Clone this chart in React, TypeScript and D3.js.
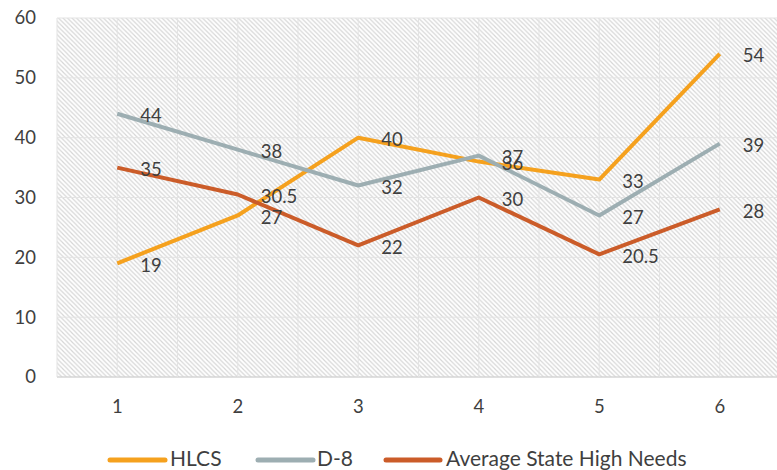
import * as d3 from "d3";

const categories = ["1", "2", "3", "4", "5", "6"];
const hlcs = [19, 27, 40, 36, 33, 54];
const d8 = [44, 38, 32, 37, 27, 39];
const avgHighNeeds = [35, 30.5, 22, 30, 20.5, 28];
const yTicks = [0, 10, 20, 30, 40, 50, 60];

const seriesList = [
  { name: "HLCS", values: hlcs, color: "#F5A11E" },
  { name: "D-8", values: d8, color: "#9DAEB2" },
  { name: "Average State High Needs", values: avgHighNeeds, color: "#CB5C29" },
];

const W = 777;
const H = 470;
const margin = { top: 18, right: -3, bottom: 93, left: 57 };
const font = "Lato, 'Open Sans', sans-serif";
const textColor = "#3f3f3f";

const App = () => {
  const x = d3
    .scaleBand()
    .domain(categories)
    .range([margin.left, W - margin.right]);
  const y = d3
    .scaleLinear()
    .domain([0, 60])
    .range([H - margin.bottom, margin.top]);
  const cx = (c) => x(c) + x.bandwidth() / 2;

  // gridlines at band edges and centres
  const vLines = [];
  categories.forEach((c) => {
    vLines.push(x(c));
    vLines.push(cx(c));
  });
  vLines.push(x(categories[categories.length - 1]) + x.bandwidth());

  const line = d3
    .line()
    .x((d, i) => cx(categories[i]))
    .y((d) => y(d));

  const legend = [
    { x1: 110, x2: 165, tx: 170 },
    { x1: 258, x2: 313, tx: 317 },
    { x1: 386, x2: 440, tx: 446 },
  ];

  return (
    <svg
      width={W}
      height={H}
      style={{ position: "fixed", left: 0, top: 0, display: "block", background: "#fff" }}
    >
      <defs>
        <pattern id="hatch" width="4.5" height="4.5" patternUnits="userSpaceOnUse">
          <path d="M-1,-1 L5.5,5.5 M-1,3.5 L1,5.5 M3.5,-1 L5.5,1" stroke="#d6d6d6" strokeWidth="1.2" />
        </pattern>
      </defs>
      <rect
        x={margin.left}
        y={margin.top}
        width={W - margin.left - margin.right}
        height={y(0) - margin.top}
        fill="url(#hatch)"
      />
      {yTicks.map((t) => (
        <line key={"h" + t} x1={margin.left} x2={W} y1={y(t)} y2={y(t)} stroke={t === 0 ? "#d4d4d4" : "#e3e3e3"} strokeWidth={t === 0 ? 1.5 : 1} />
      ))}
      {vLines.map((v, i) => (
        <line key={"v" + i} x1={v} x2={v} y1={margin.top} y2={y(0)} stroke="#e3e3e3" strokeWidth={1} />
      ))}
      {yTicks.map((t) => (
        <text key={"yt" + t} x={36} y={y(t)} dy="0.35em" textAnchor="end" fontFamily={font} fontSize={18.5} fill={textColor}>
          {t}
        </text>
      ))}
      {categories.map((c) => (
        <text key={"xt" + c} x={cx(c)} y={407} dy="0.35em" textAnchor="middle" fontFamily={font} fontSize={18.5} fill={textColor}>
          {c}
        </text>
      ))}
      {seriesList.map((s) => (
        <path key={s.name} d={line(s.values)} fill="none" stroke={s.color} strokeWidth={4} strokeLinejoin="round" />
      ))}
      {seriesList.map((s) =>
        s.values.map((v, i) => (
          <text
            key={s.name + i}
            x={cx(categories[i]) + 23}
            y={y(v) + 2}
            dy="0.35em"
            fontFamily={font}
            fontSize={18.5}
            fill={textColor}
          >
            {v}
          </text>
        ))
      )}
      {seriesList.map((s, i) => (
        <g key={"lg" + s.name}>
          <line x1={legend[i].x1} x2={legend[i].x2} y1={460} y2={460} stroke={s.color} strokeWidth={5} strokeLinecap="round" />
          <text x={legend[i].tx} y={459} dy="0.35em" fontFamily={font} fontSize={21} fill={textColor}>
            {s.name}
          </text>
        </g>
      ))}
    </svg>
  );
};

export default App;
